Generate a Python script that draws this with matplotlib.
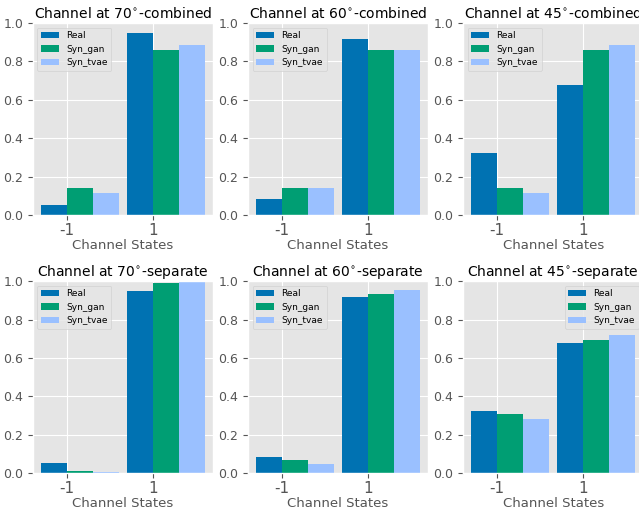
import matplotlib
matplotlib.use("Agg")
import matplotlib.pyplot as plt
import numpy as np

plt.style.use("ggplot")

states = ["-1", "1"]
angles = ["70", "60", "45"]

# fraction of samples in each channel state, one pair per angle
real_combined = [[0.052, 0.948], [0.083, 0.917], [0.323, 0.677]]
gan_combined = [[0.140, 0.860], [0.140, 0.860], [0.140, 0.860]]
tvae_combined = [[0.115, 0.885], [0.140, 0.860], [0.115, 0.885]]

real_separate = [[0.053, 0.947], [0.084, 0.916], [0.323, 0.677]]
gan_separate = [[0.010, 0.990], [0.067, 0.933], [0.307, 0.693]]
tvae_separate = [[0.005, 0.995], [0.048, 0.952], [0.282, 0.718]]

colors = ["#0072B2", "#009E73", "#9AC0FF"]
labels = ["Real", "Syn_gan", "Syn_tvae"]

fig, axes = plt.subplots(2, 3, figsize=(6.39, 5.13), dpi=100)
fig.subplots_adjust(left=0.0516, right=1.0066, top=0.955, bottom=0.078,
                    wspace=0.194, hspace=0.345)

w = 0.3
x = np.arange(len(states))
rows = [("combined", real_combined, gan_combined, tvae_combined),
        ("separate", real_separate, gan_separate, tvae_separate)]

for r, (kind, real, gan, tvae) in enumerate(rows):
    for c, angle in enumerate(angles):
        ax = axes[r, c]
        ax.bar(x - w, real[c], w, align="edge", color=colors[0], label=labels[0])
        ax.bar(x, gan[c], w, align="edge", color=colors[1], label=labels[1])
        ax.bar(x + w, tvae[c], w, align="edge", color=colors[2], label=labels[2])
        ax.set_ylim(0, 1.0)
        ax.set_xticks(x)
        ax.set_xticklabels(states, fontsize=11)
        ax.tick_params(axis="y", labelsize=9)
        ax.tick_params(axis="x", pad=2)
        ax.set_xlabel("Channel States", fontsize=9.5, labelpad=1)
        ax.set_title("Channel at " + angle + r"$^{\circ}$-" + kind,
                     fontsize=10, color="black", pad=4)
        loc = "upper right" if (r == 1 and c == 2) else "upper left"
        ax.legend(loc=loc, fontsize=6.5)

fig.savefig("out.png", dpi=100)
